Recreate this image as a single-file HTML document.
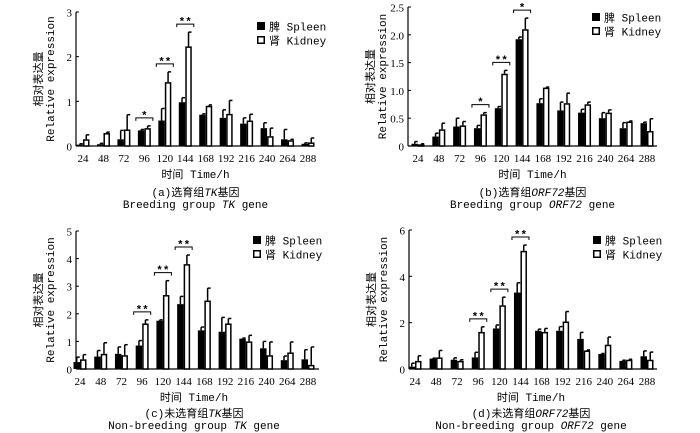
<!DOCTYPE html>
<html><head><meta charset="utf-8">
<style>
body{margin:0;background:#fff;}
svg{display:block;}
text{fill:#000;}
.t{font-family:"Liberation Serif","Noto Serif CJK SC",serif;font-size:11px;}
.m{font-family:"Liberation Mono","Noto Sans CJK SC",monospace;font-size:11px;}
</style></head>
<body>
<svg id="fig" width="700" height="433" xmlns="http://www.w3.org/2000/svg"></svg>
<script>
const categories=["24","48","72","96","120","144","168","192","216","240","264","288"];
const aSpleen=[0.03,0.04,0.15,0.35,0.57,0.98,0.70,0.63,0.50,0.40,0.15,0.05];
const aSpleenErr=[0.02,0.02,0.2,0.02,0.27,0.1,0.02,0.18,0.13,0.12,0.22,0.02];
const aKidney=[0.15,0.29,0.37,0.40,1.43,2.23,0.90,0.72,0.57,0.22,0.13,0.08];
const aKidneyErr=[0.1,0.02,0.33,0.05,0.23,0.32,0.02,0.3,0.14,0.18,0.02,0.1];
const bSpleen=[0.04,0.17,0.35,0.32,0.68,1.92,0.77,0.64,0.60,0.50,0.32,0.41];
const bSpleenErr=[0.04,0.06,0.15,0.05,0.03,0.04,0.08,0.15,0.06,0.1,0.1,0.02];
const bKidney=[0.03,0.30,0.37,0.57,1.30,2.10,1.05,0.77,0.75,0.60,0.44,0.27];
const bKidneyErr=[0.01,0.11,0.07,0.03,0.06,0.2,0.01,0.18,0.04,0.05,0.01,0.22];
const cSpleen=[0.25,0.45,0.55,0.85,1.75,2.35,1.40,1.35,1.10,0.75,0.32,0.35];
const cSpleenErr=[0.18,0.22,0.25,0.18,0.03,0.28,0.12,0.52,0.02,0.25,0.15,0.35];
const cKidney=[0.35,0.55,0.50,1.65,2.68,3.80,2.48,1.65,1.00,0.50,0.60,0.15];
const cKidneyErr=[0.17,0.4,0.38,0.13,0.52,0.33,0.45,0.18,0.22,0.48,0.38,0.65];
const dSpleen=[0.10,0.45,0.40,0.50,1.75,3.30,1.65,1.65,1.30,0.65,0.35,0.55];
const dSpleenErr=[0.15,0.02,0.08,0.22,0.15,0.42,0.07,0.18,0.28,0.02,0.03,0.23];
const dKidney=[0.35,0.50,0.35,1.60,2.75,5.10,1.60,2.05,0.80,1.05,0.40,0.40];
const dKidneyErr=[0.22,0.3,0.05,0.22,0.35,0.25,0.15,0.43,0.02,0.33,0.02,0.33];
const aTicks=["0","1","2","3"], bTicks=["0","0.5","1.0","1.5","2.0","2.5"], cTicks=["0","1","2","3","4","5"], dTicks=["0","2","4","6"];
const aSig=[[3,"*"],[4,"**"],[5,"**"]], bSig=[[3,"*"],[4,"**"],[5,"*"]], cSig=[[3,"**"],[4,"**"],[5,"**"]], dSig=[[3,"**"],[4,"**"],[5,"**"]];

const NS="http://www.w3.org/2000/svg";
const svg=document.getElementById('fig');
function el(tag,attrs,parent,txt){const e=document.createElementNS(NS,tag);for(const k in attrs)e.setAttribute(k,attrs[k]);if(txt!==undefined)e.textContent=txt;(parent||svg).appendChild(e);return e;}

function panel(id,L,spleen,sErr,kidney,kErr,ticks,sig,cap1,cap2a,cap2it,cap2b){
  const g=el('g',{});
  
  
  const maxV=parseFloat(ticks[ticks.length-1]);
  const y=v=>L.y0-(v/maxV)*(L.y0-L.yTop);
  const x=i=>L.c0+i*(L.c1-L.c0)/(categories.length-1);
  const bw=6.5;
  const ya=el('line',{x1:L.ax,y1:L.yTop,x2:L.ax,y2:L.y0,stroke:'#000','stroke-width':1.2},g);
  
  const xa=el('line',{x1:L.ax,y1:L.y0,x2:L.xEnd,y2:L.y0,stroke:'#000','stroke-width':1.2},g);
  
  ticks.forEach(t=>{const v=parseFloat(t);const yy=y(v);
    el('line',{x1:L.ax,y1:yy,x2:L.ax+3,y2:yy,stroke:'#000'},g);
    const tl=el('text',{x:L.ax-4,y:yy+4.5,'text-anchor':'end',class:'t','font-size':'13'},g,t);
    
  });
  categories.forEach((c,i)=>{
    const tl=el('text',{x:x(i),y:L.y0+16,'text-anchor':'middle',class:'t','font-size':'13'},g,c);
    
    const xs=x(i)-bw, xk=x(i);
    el('line',{x1:xs+bw/2,y1:y(spleen[i]),x2:xs+bw/2,y2:y(spleen[i]+sErr[i]),stroke:'#000','stroke-width':1.5},g);
    el('line',{x1:xs+bw/2,y1:y(spleen[i]+sErr[i]),x2:xs+bw/2+3,y2:y(spleen[i]+sErr[i]),stroke:'#000','stroke-width':1.5},g);
    const bs=el('rect',{x:xs,y:y(spleen[i]),width:bw,height:L.y0-y(spleen[i]),fill:'#000'},g);
    
    el('line',{x1:xk+bw/2,y1:y(kidney[i]),x2:xk+bw/2,y2:y(kidney[i]+kErr[i]),stroke:'#000','stroke-width':1.5},g);
    el('line',{x1:xk+bw/2,y1:y(kidney[i]+kErr[i]),x2:xk+bw/2+3,y2:y(kidney[i]+kErr[i]),stroke:'#000','stroke-width':1.5},g);
    const bk=el('rect',{x:xk+0.75,y:y(kidney[i])+0.75,width:bw-1.5,height:Math.max(0,L.y0-y(kidney[i])-0.75),fill:'#fff',stroke:'#000','stroke-width':1.5},g);
    
  });
  sig.forEach(([i,s])=>{
    const top=Math.max(spleen[i]+sErr[i],kidney[i]+kErr[i]);
    const by=y(top)-8;
    const p=el('path',{d:`M${x(i)-bw-2} ${by+3}V${by}H${x(i)+bw+2}V${by+3}`,fill:'none',stroke:'#000'},g);
    
    const st=el('text',{x:x(i),y:by+1,'text-anchor':'middle',class:'m','font-size':'15','font-weight':'bold'},g,s);
    
  });
  const yt1=el('text',{transform:`translate(${L.ax-34},${(L.yTop+L.y0)/2}) rotate(-90)`,'text-anchor':'middle',class:'m','font-size':'12'},g,'相对表达量');
  
  const yt2=el('text',{transform:`translate(${L.ax-22},${(L.yTop+L.y0)/2}) rotate(-90)`,'text-anchor':'middle',class:'m','font-size':'11.5'},g,'Relative expression');
  
  const mid=(L.c0+L.c1)/2;
  const xt=el('text',{x:mid,y:L.y0+32,'text-anchor':'middle',class:'m','font-size':'12.5'},g,'时间 Time/h');
  
  const c1=el('text',{x:mid,y:L.y0+L.cap,'text-anchor':'middle',class:'m','font-size':'12.5'},g);
  
  cap1.forEach(([t,it])=>{el('tspan',it?{'font-style':'italic'}:{},c1,t);});
  const c2=el('text',{x:mid,y:L.y0+L.cap+12,'text-anchor':'middle',class:'m','font-size':'12.5'},g);
  
  el('tspan',{},c2,cap2a);el('tspan',{'font-style':'italic'},c2,cap2it);el('tspan',{},c2,cap2b);
  const lg=el('g',{},g);
  
  el('rect',{x:L.lx,y:L.ly-4,width:8,height:8,fill:'#000'},lg);
  el('text',{x:L.lx+12,y:L.ly+4.5,class:'m','font-size':'13'},lg,'脾 Spleen');
  el('rect',{x:L.lx+0.75,y:L.ly+10.75,width:6.5,height:6.5,fill:'#fff',stroke:'#000','stroke-width':1.5},lg);
  el('text',{x:L.lx+12,y:L.ly+18.5,class:'m','font-size':'13'},lg,'肾 Kidney');
}
panel('a',{ax:76,yTop:12,y0:146,c0:83,c1:308,xEnd:314,lx:257,ly:26,cap:50},aSpleen,aSpleenErr,aKidney,aKidneyErr,aTicks,aSig,[['(a)选育组',0],['TK',1],['基因',0]],'Breeding group ','TK',' gene');
panel('b',{ax:408,yTop:7,y0:146,c0:418,c1:647,xEnd:657,lx:592,ly:17,cap:50},bSpleen,bSpleenErr,bKidney,bKidneyErr,bTicks,bSig,[['(b)选育组',0],['ORF72',1],['基因',0]],'Breeding group ','ORF72',' gene');
panel('c',{ax:76,yTop:231,y0:369,c0:80,c1:308,xEnd:319,lx:253,ly:240,cap:48},cSpleen,cSpleenErr,cKidney,cKidneyErr,cTicks,cSig,[['(c)未选育组',0],['TK',1],['基因',0]],'Non-breeding group ','TK',' gene');
panel('d',{ax:409,yTop:230,y0:369,c0:415,c1:647,xEnd:657,lx:593,ly:240,cap:48},dSpleen,dSpleenErr,dKidney,dKidneyErr,dTicks,dSig,[['(d)未选育组',0],['ORF72',1],['基因',0]],'Non-breeding group ','ORF72',' gene');
</script>
</body></html>
